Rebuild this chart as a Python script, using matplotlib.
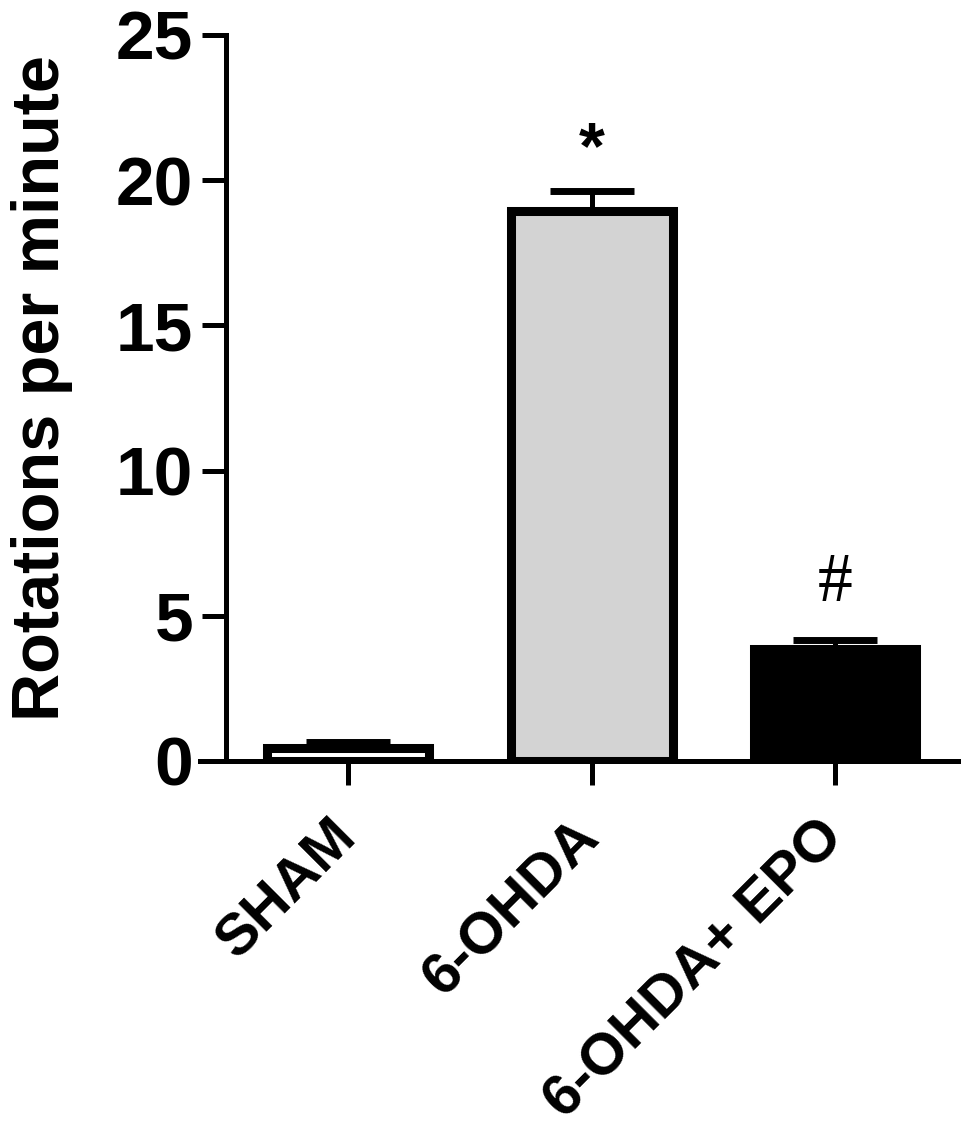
"""
Rotations per minute for SHAM, 6-OHDA and 6-OHDA + EPO groups.
Bar chart with upper SEM error bars, saved as out.png.
"""

import numpy as np
import matplotlib
matplotlib.use("Agg")
import matplotlib.pyplot as plt

# ──────────────────────────────────────────────
# Data
# ──────────────────────────────────────────────
groups = ["SHAM", "6-OHDA", "6-OHDA+ EPO"]
means  = [0.45, 18.95, 3.85]
sems   = [0.20, 0.68, 0.30]
fills  = ["white", "#d3d3d3", "black"]
marks  = ["", "*", "#"]
yticks = [0, 5, 10, 15, 20, 25]

plt.rcParams["font.family"] = ["Liberation Sans", "DejaVu Sans"]
plt.rcParams["font.weight"] = "bold"

W, H, DPI = 969, 1142, 100
fig = plt.figure(figsize=(W / DPI, H / DPI), dpi=DPI)

# axes box in pixels: x 200..958, y 35..761
ax = fig.add_axes([200 / W, 1 - 761 / H, 758 / W, 726 / H])

x = np.arange(len(groups))
ax.bar(x, means, width=0.665, color=fills, edgecolor="black",
       linewidth=6.5, zorder=3)
ax.errorbar(x, means, yerr=[np.zeros(len(sems)), sems], fmt="none",
            ecolor="black", elinewidth=3.6, capsize=30, capthick=5, zorder=2)

ax.set_xlim(-0.608, 2.505)
ax.set_ylim(0, 25)

for s in ["top", "right"]:
    ax.spines[s].set_visible(False)
ax.spines["left"].set_position(("data", -0.5))
for s in ["left", "bottom"]:
    ax.spines[s].set_linewidth(3.6)

ax.set_yticks(yticks)
ax.set_yticklabels([str(t) for t in yticks], fontsize=50, fontweight="bold")
ax.tick_params(axis="y", length=17, width=3.6, pad=7)

ax.set_xticks(x)
ax.set_xticklabels(groups, fontsize=42, fontweight="bold", rotation=45,
                   ha="right", va="center", rotation_mode="anchor")
ax.tick_params(axis="x", length=17, width=3.6, pad=32)

# significance marks
ax.text(1, 21.0, marks[1], ha="center", va="center", fontsize=48,
        fontweight="bold")
ax.text(2, 6.1, marks[2], ha="center", va="center", fontsize=50,
        fontweight="normal", family="Liberation Serif")

fig.text(42 / W, 1 - 388 / H, "Rotations per minute", rotation=90,
         ha="center", va="center", fontsize=48, fontweight="bold")

fig.savefig("out.png", dpi=DPI)
